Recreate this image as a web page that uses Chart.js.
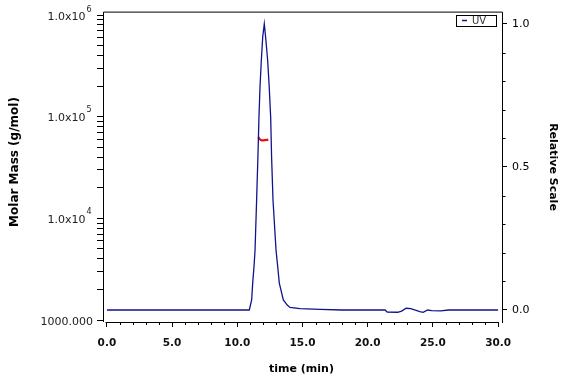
<!DOCTYPE html>
<html><head><meta charset="utf-8">
<script src="https://cdn.jsdelivr.net/npm/chart.js@4"></script>
<style>html,body{margin:0;padding:0;background:#fff}</style>
</head><body>
<canvas id="c" width="576" height="384"></canvas>
<script>
// UV trace (relative scale, right axis)
const uvTime  = [0, 5, 10, 10.92, 11.10, 11.18, 11.28, 11.36, 11.48, 11.58, 11.66, 11.74, 11.84, 11.95, 12.07, 12.18, 12.33, 12.45, 12.56, 12.63, 12.74, 12.97, 13.10, 13.22, 13.53, 13.83, 14.04, 14.81, 16.34, 18, 21.33, 21.5, 22.3, 22.6, 22.95, 23.3, 23.6, 24.0, 24.25, 24.6, 24.9, 25.6, 26.2, 30];
const uvValue = [0, 0, 0, 0, 0.035, 0.094, 0.151, 0.209, 0.383, 0.534, 0.673, 0.778, 0.871, 0.955, 1.0, 0.95, 0.871, 0.778, 0.673, 0.534, 0.383, 0.209, 0.151, 0.094, 0.035, 0.017, 0.009, 0.005, 0.002, 0, 0, -0.007, -0.008, -0.004, 0.006, 0.005, 0, -0.006, -0.008, 0, -0.002, -0.003, 0, 0];
// Molar mass (left axis, g/mol)
const mmTime  = [11.61, 11.70, 11.80, 11.90, 12.00, 12.10, 12.20, 12.30, 12.38];
const mmValue = [63000, 60500, 59000, 58500, 58500, 58800, 59000, 59300, 59500];
// Tick labels
const xTickValues = [0, 5, 10, 15, 20, 25, 30];
const xMinorValues = [1,2,3,4,6,7,8,9,11,12,13,14,16,17,18,19,21,22,23,24,26,27,28,29];
const leftDecades = [1000, 10000, 100000, 1000000];
const leftTickBase = ["1000.000", "1.0x10", "1.0x10", "1.0x10"];
const leftTickExp = ["", "4", "5", "6"];
const leftMinorMult = [2,3,4,5,6,7,8,9];
const rightTickValues = [0, 0.5, 1.0];
const rightMinorValues = [0.1,0.2,0.3,0.4,0.6,0.7,0.8,0.9];
const xTitle = "time (min)";
const yTitle = "Molar Mass (g/mol)";
const y1Title = "Relative Scale";

const BLUE = '#12128a';
const RED = '#e01010';
const FONT = 'DejaVu Sans';

const overlay = {
  id: 'overlay',
  afterDraw(chart) {
    const ctx = chart.ctx, a = chart.chartArea;
    const xs = chart.scales.x, ys = chart.scales.y, y1 = chart.scales.y1;
    ctx.save();
    ctx.strokeStyle = '#000'; ctx.lineWidth = 1;
    // frame
    ctx.beginPath();
    ctx.moveTo(a.left + 0.5, a.bottom); ctx.lineTo(a.left + 0.5, a.top + 0.5);
    ctx.lineTo(a.right + 0.5, a.top + 0.5); ctx.lineTo(a.right + 0.5, a.bottom + 1);
    const bx0 = Math.round(xs.getPixelForValue(xTickValues[0])) - 1.5;
    const bx1 = Math.round(xs.getPixelForValue(xTickValues[xTickValues.length-1])) + 0.5;
    ctx.moveTo(bx0, a.bottom + 0.5); ctx.lineTo(bx1, a.bottom + 0.5);
    // minor x ticks
    xMinorValues.forEach(v => {
      const px = Math.round(xs.getPixelForValue(v)) + 0.5;
      ctx.moveTo(px, a.bottom); ctx.lineTo(px, a.bottom + 3);
    });
    // minor right ticks
    rightMinorValues.forEach(v => {
      const py = Math.round(y1.getPixelForValue(v)) + 0.5;
      ctx.moveTo(a.right, py); ctx.lineTo(a.right + 3.5, py);
    });
    ctx.stroke();

    // left tick labels with superscripts
    ctx.fillStyle = '#222';
    ctx.textBaseline = 'middle';
    leftDecades.forEach((d, i) => {
      const py = ys.getPixelForValue(d);
      if (leftTickExp[i] === '') {
        ctx.font = '11px ' + FONT; ctx.textAlign = 'right';
        ctx.fillText(leftTickBase[i], 93, py + 2.5);
      } else {
        let cy = py + 1.5;
        if (cy < 17.5) cy = 17.5;
        ctx.font = '11px ' + FONT; ctx.textAlign = 'right';
        ctx.fillText(leftTickBase[i], 85.5, cy);
        ctx.font = '8px ' + FONT; ctx.textAlign = 'left';
        ctx.fillText(leftTickExp[i], 86.5, cy - 8);
      }
    });

    // axis titles
    ctx.fillStyle = '#000';
    ctx.font = 'bold 11px ' + FONT;
    ctx.textAlign = 'center'; ctx.textBaseline = 'middle';
    ctx.fillText(xTitle, (xs.getPixelForValue(0) + xs.getPixelForValue(30)) / 2 - 1, 369);
    ctx.save();
    ctx.translate(15, 162);
    ctx.rotate(-Math.PI / 2);
    ctx.font = 'bold 12px ' + FONT;
    ctx.fillText(yTitle, 0, 0);
    ctx.restore();
    ctx.save();
    ctx.translate(553, 167);
    ctx.rotate(Math.PI / 2);
    ctx.font = 'bold 11px ' + FONT;
    ctx.fillText(y1Title, 0, 0);
    ctx.restore();

    // legend
    const ds = chart.data.datasets[0];
    ctx.strokeStyle = '#000'; ctx.lineWidth = 1;
    ctx.strokeRect(456.5, 15.5, 40, 11);
    ctx.strokeStyle = ds.borderColor; ctx.lineWidth = 1.5;
    ctx.beginPath(); ctx.moveTo(462, 20.5); ctx.lineTo(467, 20.5); ctx.stroke();
    ctx.fillStyle = '#333';
    ctx.font = '10px ' + FONT; ctx.textAlign = 'left'; ctx.textBaseline = 'middle';
    ctx.fillText(ds.label, 472, 21);
    ctx.restore();
  }
};

new Chart(document.getElementById('c'), {
  type: 'line',
  data: {
    datasets: [
      { label: 'UV', yAxisID: 'y1', data: uvTime.map((t, i) => ({x: t, y: uvValue[i]})),
        borderColor: BLUE, borderWidth: 1.3, pointRadius: 0, tension: 0, fill: false },
      { label: 'Molar Mass', yAxisID: 'y', data: mmTime.map((t, i) => ({x: t, y: mmValue[i]})),
        borderColor: RED, borderWidth: 2.2, pointRadius: 0, tension: 0.3, fill: false }
    ]
  },
  options: {
    responsive: false, animation: false, devicePixelRatio: 1,
    layout: { padding: { top: 10, left: 0, right: 0, bottom: 0 } },
    plugins: { legend: { display: false }, tooltip: { enabled: false } },
    scales: {
      x: {
        type: 'linear', position: 'bottom', min: -0.3, max: 30.3,
        afterBuildTicks: s => { s.ticks = xTickValues.map(v => ({ value: v })); },
        afterFit: s => { s.height = 62; },
        ticks: { callback: v => Number(v).toFixed(1), font: { family: FONT, size: 10.5, weight: 'bold' }, color: '#111', padding: 10, maxRotation: 0, autoSkip: false },
        grid: { drawOnChartArea: false, tickLength: 5, color: '#000', lineWidth: 1 },
        border: { display: false }
      },
      y: {
        type: 'logarithmic', position: 'left', min: 956, max: 1082000,
        afterBuildTicks: s => {
          const t = [];
          leftDecades.forEach((d, i) => {
            t.push({ value: d });
            if (i < leftDecades.length - 1) leftMinorMult.forEach(m => t.push({ value: d * m }));
          });
          s.ticks = t;
        },
        afterFit: s => { s.width = 103; },
        ticks: { callback: () => '', autoSkip: false },
        grid: { drawOnChartArea: false, tickLength: 6, color: '#000', lineWidth: 1 },
        border: { display: false }
      },
      y1: {
        type: 'linear', position: 'right', min: -0.042, max: 1.043,
        afterBuildTicks: s => { s.ticks = rightTickValues.map(v => ({ value: v })); },
        afterFit: s => { s.width = 74; },
        ticks: { callback: v => Number(v).toFixed(1), font: { family: FONT, size: 11 }, color: '#000', padding: 5, autoSkip: false },
        grid: { drawOnChartArea: false, tickLength: 5, color: '#000', lineWidth: 1 },
        border: { display: false }
      }
    }
  },
  plugins: [overlay]
});
</script>
</body></html>
